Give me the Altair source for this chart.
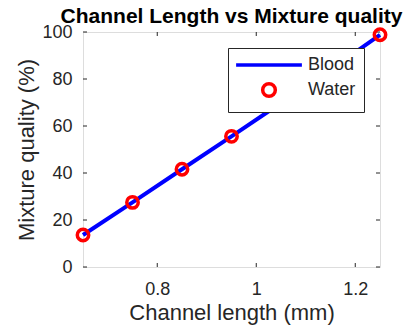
import altair as alt
import pandas as pd

# Data
channel_length = [0.65, 0.75, 0.85, 0.95, 1.05, 1.15, 1.25]
blood_quality = [13.6, 27.5, 41.6, 55.6, 69.8, 84.0, 98.8]
water_quality = [13.6, 27.5, 41.6, 55.6, 69.8, 84.0, 98.8]
x_ticks = [0.8, 1.0, 1.2]
y_ticks = [0, 20, 40, 60, 80, 100]
series_names = ["Blood", "Water"]

W, H = 297, 235
FONT = "Liberation Sans"
INK = "#262626"

blood = pd.DataFrame({"x": channel_length, "y": blood_quality, "series": "Blood"})
water = pd.DataFrame({"x": channel_length, "y": water_quality, "series": "Water"})
xt = pd.DataFrame({"v": x_ticks})
yt = pd.DataFrame({"v": y_ticks})

xscale = alt.Scale(domain=[0.65, 1.25], nice=False, zero=False)
yscale = alt.Scale(domain=[0, 100], nice=False)

xaxis = alt.Axis(values=x_ticks, format="~g", title="Channel length (mm)", grid=False,
                 tickSize=0, domain=False, labelPadding=13, titlePadding=4,
                 labelFontSize=18, titleFontSize=22, labelColor=INK, titleColor=INK,
                 labelFont=FONT, titleFont=FONT, titleFontWeight="normal")
yaxis = alt.Axis(values=y_ticks, title="Mixture quality (%)", grid=False,
                 tickSize=0, domain=False, labelPadding=11, titlePadding=3,
                 labelFontSize=18, titleFontSize=22, labelColor=INK, titleColor=INK,
                 labelFont=FONT, titleFont=FONT, titleFontWeight="normal")

color_scale = alt.Scale(domain=series_names, range=["#0000ff", "#ff0000"])
shape_scale = alt.Scale(domain=series_names, range=["M-5.2,0L5.2,0", "circle"])
legend = alt.Legend(title=None, orient="none", legendX=145, legendY=16,
                    fillColor="white", strokeColor=INK, padding=8,
                    symbolSize=160, symbolStrokeWidth=3.5, symbolOffset=24,
                    labelOffset=30, rowPadding=2, labelFontSize=18, labelFont=FONT,
                    labelColor=INK, symbolFillColor="transparent")

line = alt.Chart(blood).mark_line(strokeWidth=4).encode(
    x=alt.X("x:Q", scale=xscale, axis=xaxis),
    y=alt.Y("y:Q", scale=yscale, axis=yaxis),
    color=alt.Color("series:N", scale=color_scale, legend=legend),
)
points = alt.Chart(water).mark_point(filled=False, size=130, strokeWidth=3.5, opacity=1).encode(
    x="x:Q",
    y="y:Q",
    color=alt.Color("series:N", scale=color_scale, legend=legend),
    shape=alt.Shape("series:N", scale=shape_scale, legend=legend),
)

tick_len = 4
bottom_ticks = alt.Chart(xt).mark_rule(color=INK, strokeWidth=1).encode(
    x="v:Q", y=alt.value(H), y2=alt.value(H - tick_len))
top_ticks = alt.Chart(xt).mark_rule(color=INK, strokeWidth=1).encode(
    x="v:Q", y=alt.value(0), y2=alt.value(tick_len))
left_ticks = alt.Chart(yt).mark_rule(color=INK, strokeWidth=1).encode(
    y="v:Q", x=alt.value(0), x2=alt.value(tick_len))
right_ticks = alt.Chart(yt).mark_rule(color=INK, strokeWidth=1).encode(
    y="v:Q", x=alt.value(W), x2=alt.value(W - tick_len))

chart = alt.layer(bottom_ticks, top_ticks, left_ticks, right_ticks, line, points).properties(
    width=W, height=H,
    title=alt.TitleParams("Channel Length vs Mixture quality", fontSize=21, font=FONT,
                          fontWeight="bold", color="black", anchor="middle", offset=6, dy=11),
    autosize=alt.AutoSizeParams(type="none"),
    padding={"left": 75, "top": 24, "right": 24, "bottom": 58},
).configure_view(stroke=INK, strokeWidth=1).configure(background="white")

chart.save("out.html", embed_options={"renderer": "svg", "actions": False})
